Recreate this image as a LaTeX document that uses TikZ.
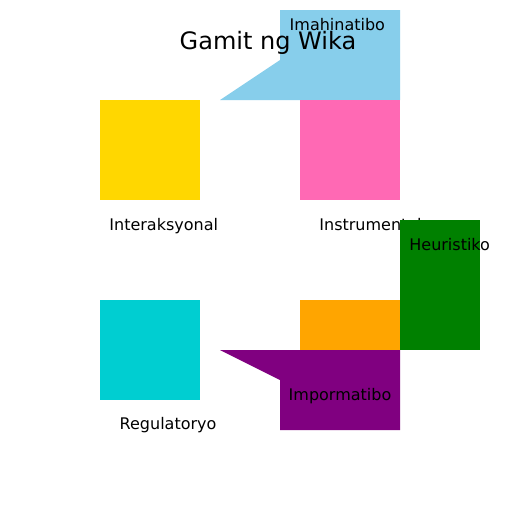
\documentclass[tikz,border=0pt]{standalone}
\usepackage{fontspec}
\setmainfont{DejaVu Sans}
\definecolor{cskyblue}{HTML}{87CEEB}
\definecolor{cgold}{HTML}{FFD700}
\definecolor{chotpink}{HTML}{FF69B4}
\definecolor{cturq}{HTML}{00CED1}
\definecolor{corange}{HTML}{FFA500}
\definecolor{cgreen}{HTML}{008000}
\definecolor{cpurple}{HTML}{800080}
\tikzset{
  lbl/.style={anchor=base west, inner sep=0pt, font=\fontsize{16}{19}\selectfont, text=black},
  ttl/.style={anchor=base, inner sep=0pt, font=\fontsize{24}{28}\selectfont, text=black},
}
\begin{document}
\begin{tikzpicture}[x=1pt,y=-1pt]
\useasboundingbox[fill=white] (0,0) rectangle (512,512);
% Imahinatibo shape
\fill[cskyblue] (280,10) -- (400,10) -- (400,100) -- (220,100) -- (280,60) -- cycle;
\node[ttl] (title) at (268,49.3) {Gamit ng Wika};
\node[lbl] (imah) at (289.5,30) {Imahinatibo};
% Interaksyonal
\fill[cgold] (100,100) rectangle (200,200);
% Instrumental
\fill[chotpink] (300,100) rectangle (400,200);
\node[lbl] (inter) at (109.2,230) {Interaksyonal};
\node[lbl] (instr) at (319.2,230) {Instrumental};
% Heuristiko
\fill[cgreen] (400,220) rectangle (480,350);
\node[lbl] (heur) at (409.2,250) {Heuristiko};
% Regulatoryo
\fill[cturq] (100,300) rectangle (200,400);
\node[lbl] (reg) at (119.5,429.5) {Regulatoryo};
% Orange
\fill[corange] (300,300) rectangle (400,350);
% Impormatibo
\fill[cpurple] (220,350) -- (400,350) -- (400,430) -- (280,430) -- (280,380) -- cycle;
\node[lbl] (impo) at (288.5,400) {Impormatibo};
\end{tikzpicture}
\end{document}
